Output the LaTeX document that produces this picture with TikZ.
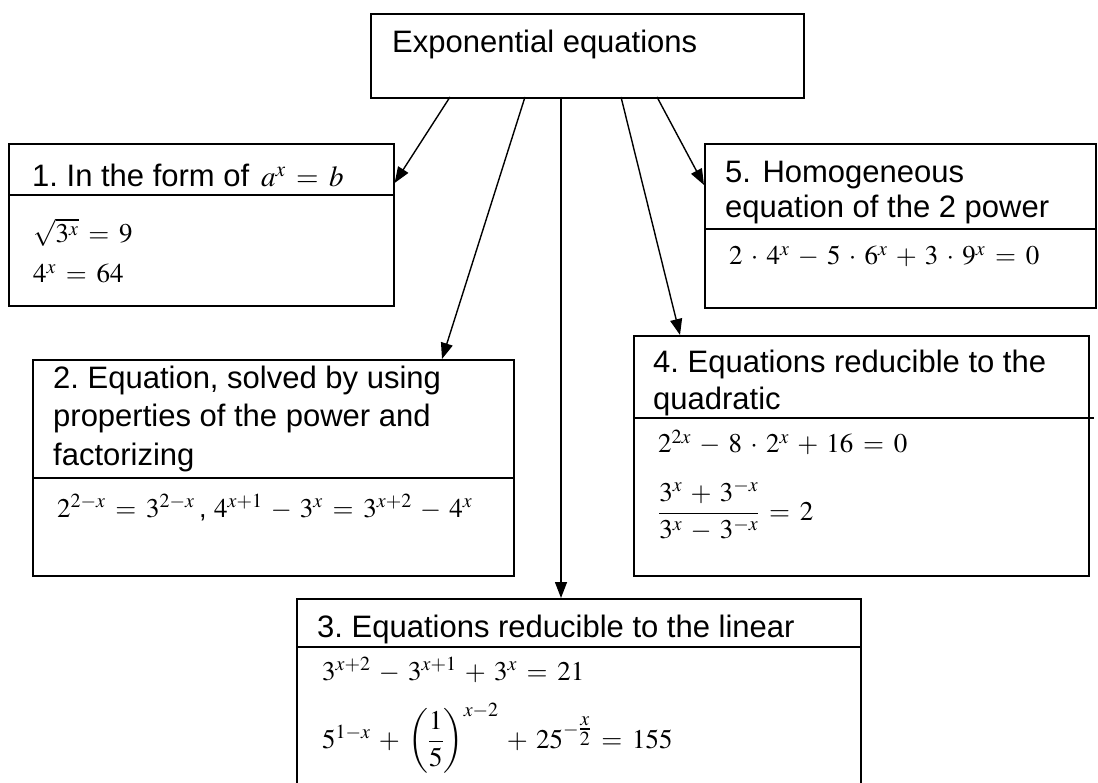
\documentclass[tikz,border=0pt]{standalone}
\usepackage{amsmath}
\usepackage{mathptmx}
\usepackage[no-math]{fontspec}
\setmainfont{Liberation Sans}
\usetikzlibrary{arrows.meta}

\newcommand\eqspacing{\medmuskip=5.5mu\relax\thickmuskip=6.5mu\relax}

\tikzset{
  eqbox/.style={draw,line width=1.6pt,anchor=north west,inner sep=0pt},
  divider/.style={line width=1.6pt},
  head/.style={anchor=base west,inner sep=0pt,align=left,font=\fontsize{31}{37}\selectfont\frenchspacing},
  formula/.style={anchor=base west,inner sep=0pt,
    font=\fontsize{27}{30}\selectfont\eqspacing},
  link/.style={line width=1.4pt,-{Triangle[length=16pt,width=12pt]}}
}

\begin{document}
\begin{tikzpicture}[x=1pt,y=-1pt]
 \useasboundingbox (0,0) rectangle (1098,783);
 \clip (0,0) rectangle (1098,783);
 % boxes
 \node[eqbox,minimum width=433pt,minimum height=84pt] (top) at (370,13) {};
 \node[eqbox,minimum width=385pt,minimum height=162pt] (b1) at (8,143) {};
 \node[eqbox,minimum width=391pt,minimum height=164pt] (b5) at (704,143) {};
 \node[eqbox,minimum width=481pt,minimum height=216pt] (b2) at (32,359) {};
 \node[eqbox,minimum width=455pt,minimum height=240pt] (b4) at (633,335) {};
 \node[eqbox,minimum width=564pt,minimum height=230pt] (b3) at (296,598) {};
 \draw[divider] (b1.west |- 0,195) -- (b1.east |- 0,195);
 \draw[divider] (b5.west |- 0,229) -- (b5.east |- 0,229);
 \draw[divider] (b2.west |- 0,478) -- (b2.east |- 0,478);
 \draw[divider] (b4.west |- 0,418) -- ([xshift=4pt]b4.east |- 0,418);
 \draw[divider] (b3.west |- 0,647) -- (b3.east |- 0,647);

 % texts (multi-line heads sit on their last baseline)
 \node[head] (title) at (392,53) {Exponential equations};
 \node[head] (h1) at (32,187) {1. In the form of {\fontsize{29}{30}\selectfont\eqspacing$\,a^x = b$}};
 \node[formula] (e11) at (33,243) {$\sqrt{3^x}=9$};
 \node[formula] (e12) at (33,283) {$4^x=64$};
 \node[head,font=\fontsize{31}{35}\selectfont] (h5) at (725,218) {5. Homogeneous\\equation of the 2 power};
 \node[formula] (e5) at (729,265) {$2\cdot4^x-5\cdot6^x+3\cdot9^x=0$};
 \node[head,font=\fontsize{31}{38.5}\selectfont\frenchspacing] (h2) at (53,465) {2. Equation, solved by using\\properties of the power and\\factorizing};
 \node[formula] (e2) at (57,517) {$2^{2-x}=3^{2-x}$\,, $4^{x+1}-3^x=3^{x+2}-4^x$};
 \node[head] (h4) at (653,410) {4. Equations reducible to the\\quadratic};
 \node[formula] (e41) at (658,453) {$2^{2x}-8\cdot2^x+16=0$};
 \node[formula] (e42) at (658,520) {$\dfrac{3^x+3^{-x}}{3^x-3^{-x}}=2$};
 \node[head] (h3) at (317,637) {3. Equations reducible to the linear};
 \node[formula] (e31) at (322,680) {$3^{x+2}-3^{x+1}+3^x=21$};
 \node[formula] (e32) at (322,748) {$5^{1-x}+\left(\dfrac{1}{5}\right)^{x-2}+25^{-\tfrac{x}{2}}=155$};

 % connectors
 \coordinate (t1) at (450,97);
 \coordinate (t2) at (525,97);
 \coordinate (t3) at (561,97);
 \coordinate (t4) at (621,97);
 \coordinate (t5) at (657,97);
 \draw[link] (t1) -- (b1.east |- 0,183);
 \draw[link] (t2) -- (b2.north -| 442,0);
 \draw[link] (t3) -- (b3.north -| t3);
 \draw[link] (t4) -- (b4.north -| 680,0);
 \draw[link] (t5) -- (b5.west |- 0,185);
\end{tikzpicture}
\end{document}
